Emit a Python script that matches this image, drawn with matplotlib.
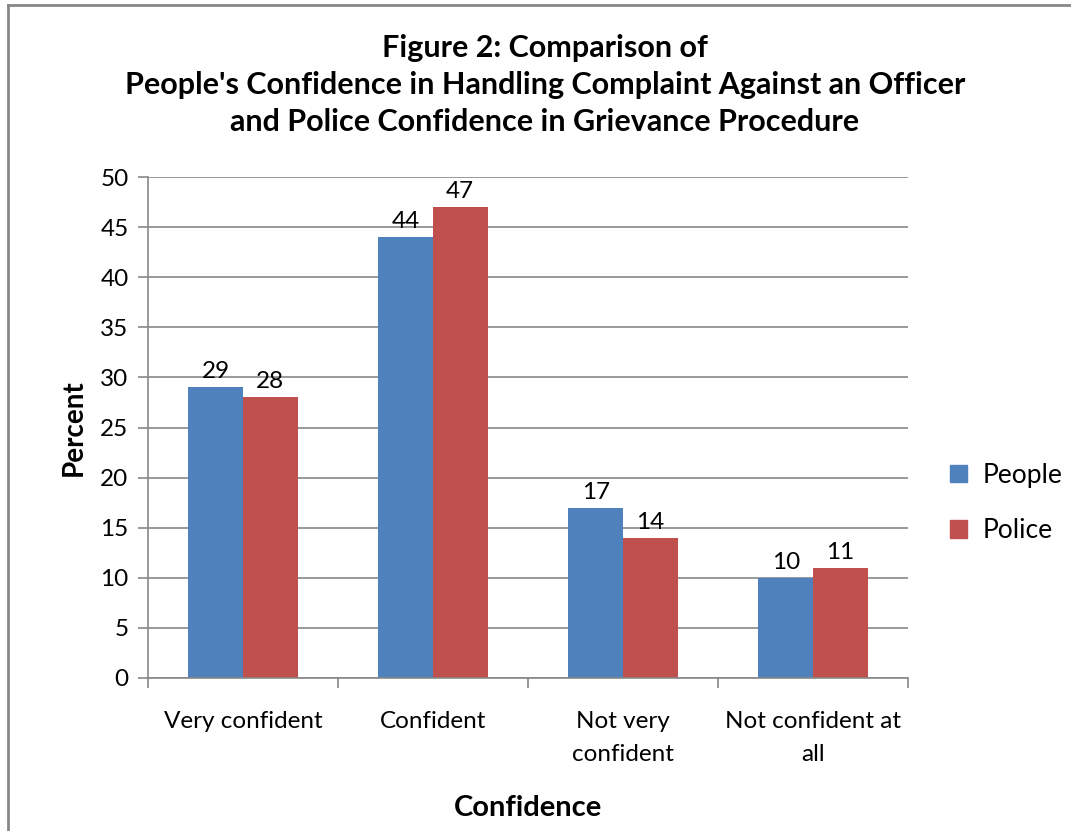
import matplotlib
matplotlib.use("Agg")
import matplotlib.pyplot as plt
import numpy as np
from matplotlib.lines import Line2D

categories = ["Very confident", "Confident", "Not very\nconfident", "Not confident at\nall"]
people = [29, 44, 17, 10]
police = [28, 47, 14, 11]
series_names = ["People", "Police"]
colors = ["#4F81BD", "#C0504D"]
yticks = [0, 5, 10, 15, 20, 25, 30, 35, 40, 45, 50]

plt.rcParams['font.family'] = ['Lato', 'DejaVu Sans']

W, H = 1071, 831
fig = plt.figure(figsize=(W/100, H/100), dpi=100)
ax = fig.add_axes([148/W, 1-678/H, (908-148)/W, (678-177)/H])

FS = 17.5
x = np.arange(len(categories))
bw = 0.287
b1 = ax.bar(x - bw/2, people, bw, color=colors[0], label=series_names[0])
b2 = ax.bar(x + bw/2, police, bw, color=colors[1], label=series_names[1])
for bars, vals in ((b1, people), (b2, police)):
    for r, v in zip(bars, vals):
        ax.text(r.get_x() + r.get_width()/2, v + 0.5, str(v), ha='center', va='bottom', fontsize=FS)

ax.set_xlim(-0.5, len(categories) - 0.5)
ax.set_ylim(0, 50)
ax.set_yticks(yticks)
ax.set_yticklabels([str(t) for t in yticks], fontsize=FS)
ax.yaxis.grid(True, color='#888888', linewidth=1.2)
ax.set_axisbelow(True)
ax.set_xticks(x)
ax.set_xticklabels(categories, fontsize=FS, linespacing=1.7)
ax.set_xticks(np.arange(-0.5, len(categories)), minor=True)
ax.tick_params(axis='x', which='major', length=0, pad=24)
ax.tick_params(axis='x', which='minor', length=7, color='#888888', width=1.2)
ax.tick_params(axis='y', length=7, color='#888888', width=1.2, pad=7)
for s in ['top', 'right']:
    ax.spines[s].set_visible(False)
for s in ['left', 'bottom']:
    ax.spines[s].set_color('#888888')
    ax.spines[s].set_linewidth(1.2)

ax.set_ylabel("Percent", fontsize=20, fontweight='bold', labelpad=10)
fig.text(528/W, 1-808/H, "Confidence", ha='center', va='center', fontsize=21, fontweight='bold')

fig.text(545/W, 1-85/H, "Figure 2: Comparison of\nPeople's Confidence in Handling Complaint Against an Officer\nand Police Confidence in Grievance Procedure",
         ha='center', va='center', fontsize=22, fontweight='bold', linespacing=1.38)

handles = [plt.Rectangle((0, 0), 1, 1, color=c) for c in colors]
fig.legend(handles, series_names, loc='center left', bbox_to_anchor=(950/W, 1-503/H),
           frameon=False, fontsize=19, handlelength=0.65, handleheight=0.65,
           handletextpad=0.6, labelspacing=1.15, borderpad=0, borderaxespad=0)

# outer border (top and left)
fig.add_artist(Line2D([8/W, 8/W], [0, 1-5/H], transform=fig.transFigure, color='#888888', linewidth=2))
fig.add_artist(Line2D([8/W, 1], [1-5/H, 1-5/H], transform=fig.transFigure, color='#888888', linewidth=2))

fig.savefig("out.png", dpi=100)
